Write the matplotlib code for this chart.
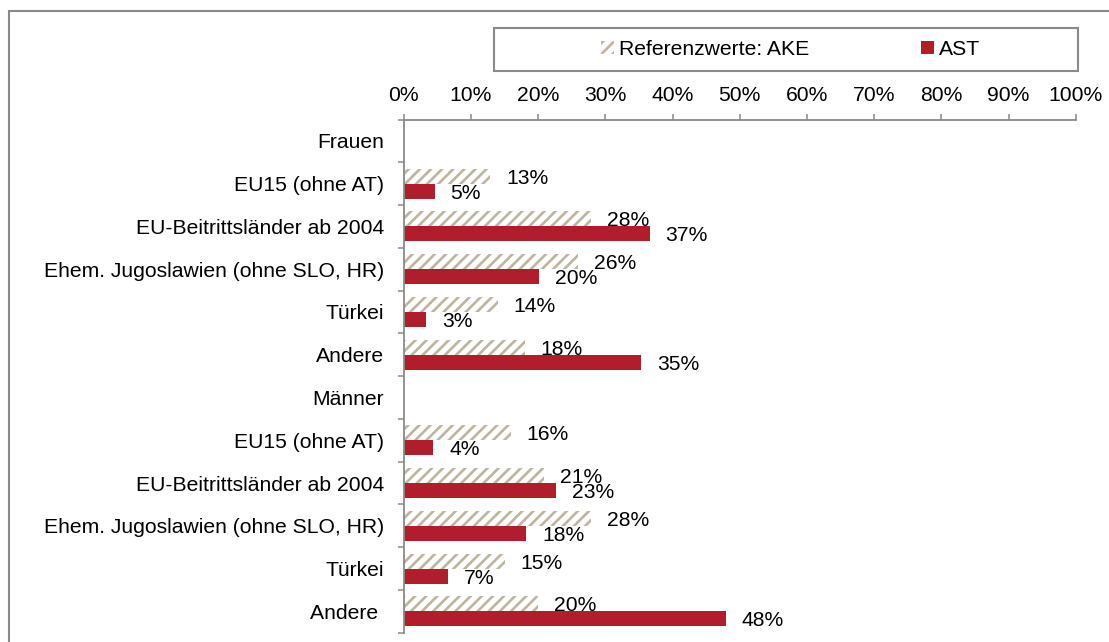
import numpy as np
import matplotlib
matplotlib.use("Agg")
import matplotlib.pyplot as plt
from matplotlib.patches import Rectangle, Patch

plt.rcParams['font.family'] = ['Liberation Sans', 'DejaVu Sans']
plt.rcParams['hatch.linewidth'] = 1.9

categories = ["Frauen", "EU15 (ohne AT)", "EU-Beitrittsländer ab 2004",
              "Ehem. Jugoslawien (ohne SLO, HR)", "Türkei", "Andere",
              "Männer", "EU15 (ohne AT)", "EU-Beitrittsländer ab 2004",
              "Ehem. Jugoslawien (ohne SLO, HR)", "Türkei", "Andere "]
# header rows (Frauen / Männer) have no bars
ake = [None, 12.9, 27.9, 25.9, 14.0, 18.0, None, 15.9, 20.9, 27.9, 15.0, 20.0]
ast = [None, 4.6, 36.6, 20.1, 3.3, 35.3, None, 4.4, 22.7, 18.2, 6.6, 47.9]
xticks = [0, 10, 20, 30, 40, 50, 60, 70, 80, 90, 100]

red = '#B01E2D'
hatch_col = '#BDB59F'
grey = '#8A8A8A'
fs = 15.2

W, H = 1109, 642
fig = plt.figure(figsize=(W / 100, H / 100), dpi=100)
ax = fig.add_axes([403.7 / W, 1 - 632.7 / H, 672 / W, 513.2 / H])

y = np.arange(len(categories))
bh = 0.35
for i in range(len(categories)):
    if ake[i] is not None:
        ax.barh(y[i] - bh / 2, ake[i], height=bh, color='white', edgecolor=hatch_col,
                linewidth=0, hatch='///')
        ax.annotate(f"{ake[i]:.0f}%", (ake[i], y[i] - bh / 2), xytext=(16, -2),
                    textcoords='offset pixels', va='center', ha='left', fontsize=fs)
    if ast[i] is not None:
        ax.barh(y[i] + bh / 2, ast[i], height=bh, color=red, linewidth=0)
        ax.annotate(f"{ast[i]:.0f}%", (ast[i], y[i] + bh / 2), xytext=(16, -2),
                    textcoords='offset pixels', va='center', ha='left', fontsize=fs)

ax.set_xlim(0, 100)
ax.set_ylim(len(categories) - 0.5, -0.5)
ax.xaxis.tick_top()
ax.set_xticks(xticks)
ax.set_xticklabels([f"{t}%" for t in xticks], fontsize=fs)
ax.tick_params(axis='x', which='major', direction='out', length=4.5, width=1.1,
               color=grey, pad=6)

ax.set_yticks(y)
ax.set_yticklabels(categories, fontsize=fs)
ax.set_yticks(np.arange(-0.5, len(categories)), minor=True)
ax.tick_params(axis='y', which='major', length=0, pad=14)
ax.tick_params(axis='y', which='minor', direction='out', length=4.5, width=1.1, color=grey)

for s in ['right', 'bottom']:
    ax.spines[s].set_visible(False)
for s in ['left', 'top']:
    ax.spines[s].set_color(grey)
    ax.spines[s].set_linewidth(1.3)

# legend with its own box
fig.add_artist(Rectangle((494 / W, 1 - 71 / H), 584 / W, 43 / H, transform=fig.transFigure,
                         fill=False, edgecolor=grey, linewidth=1.5))
handles = [Patch(facecolor='white', edgecolor=hatch_col, linewidth=0, hatch='///',
                 label='Referenzwerte: AKE'),
           Patch(facecolor=red, linewidth=0, label='AST')]
fig.legend(handles=handles, loc='center', bbox_to_anchor=(790.6 / W, 1 - 49.5 / H),
           ncol=2, frameon=False, fontsize=fs, handlelength=0.6, handleheight=0.6,
           handletextpad=0.25, columnspacing=5.3, borderpad=0)

# outer chart border (runs off the right and bottom edge)
fig.add_artist(Rectangle((9 / W, -0.1), 1.2, 1.1 - 11 / H, transform=fig.transFigure,
                         fill=False, edgecolor=grey, linewidth=1.5))

fig.savefig('out.png', dpi=100)
